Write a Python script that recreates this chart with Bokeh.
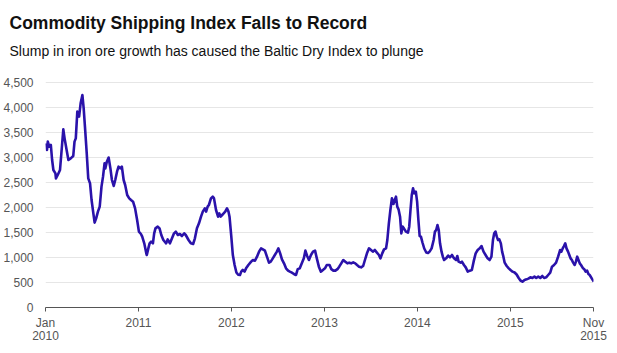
import pandas as pd
from bokeh.plotting import figure
from bokeh.models import (Range1d, FixedTicker, NumeralTickFormatter, Title,
                          ColumnDataSource)
from bokeh.embed import file_html
from bokeh.resources import INLINE

title_text = "Commodity Shipping Index Falls to Record"
subtitle_text = "Slump in iron ore growth has caused the Baltic Dry Index to plunge"

# observation dates (days after 1 Jan 2010) and Baltic Dry Index values
days_since_2010 = [
    3, 6, 9, 15, 21, 26, 31, 39, 41, 48, 57, 65, 70, 75, 83, 90, 99, 109, 114, 119,
    125, 132, 138, 145, 150, 155, 162, 168, 175, 181, 188, 193, 199, 206, 213, 220,
    226, 232, 235, 241, 248, 255, 261, 268, 274, 281, 287, 294, 300, 307, 313, 321,
    329, 336, 344, 352, 360, 367, 375, 380, 388, 396, 398, 404, 409, 415, 422, 427,
    432, 441, 448, 455, 463, 474, 480, 489, 497, 505, 512, 520, 528, 536, 545, 551,
    562, 571, 580, 587, 595, 603, 611, 618, 626, 631, 637, 642, 650, 657, 662, 670,
    678, 683, 688, 694, 700, 706, 713, 719, 723, 730, 736, 743, 750, 757, 764, 769,
    775, 782, 788, 797, 808, 815, 823, 831, 839, 847, 854, 862, 870, 878, 885, 893,
    901, 909, 915, 922, 929, 937, 945, 953, 960, 968, 976, 984, 991, 999, 1007, 1015,
    1021, 1028, 1035, 1043, 1051, 1059, 1066, 1074, 1082, 1090, 1098, 1105, 1116, 1123,
    1131, 1139, 1147, 1154, 1162, 1170, 1178, 1186, 1193, 1201, 1209, 1217, 1224, 1232,
    1240, 1248, 1255, 1263, 1271, 1279, 1286, 1294, 1302, 1310, 1316, 1323, 1330, 1338,
    1343, 1349, 1355, 1361, 1367, 1372, 1377, 1382, 1387, 1393, 1398, 1403, 1408, 1416,
    1424, 1429, 1434, 1439, 1444, 1449, 1455, 1460, 1465, 1470, 1475, 1481, 1488, 1496,
    1503, 1509, 1517, 1525, 1530, 1535, 1540, 1545, 1550, 1556, 1561, 1566, 1574, 1582,
    1589, 1597, 1605, 1613, 1618, 1623, 1631, 1636, 1644, 1651, 1659, 1667, 1675, 1682,
    1690, 1698, 1706, 1713, 1721, 1729, 1737, 1745, 1752, 1758, 1763, 1768, 1773, 1778,
    1783, 1789, 1794, 1799, 1804, 1812, 1820, 1827, 1835, 1843, 1851, 1859, 1866, 1874,
    1882, 1890, 1897, 1905, 1913, 1921, 1928, 1936, 1944, 1952, 1959, 1967, 1975, 1983,
    1990, 1998, 2006, 2014, 2022, 2027, 2032, 2037, 2042, 2047, 2053, 2058, 2063, 2068,
    2073, 2079, 2084, 2089, 2094, 2099, 2104, 2112, 2117, 2122, 2128, 2133, 2138, 2146,
    2154,
]
bdi = [
    3283, 3150, 3317, 3217, 3250, 2950, 2750, 2683, 2583, 2650, 2750, 3250, 3563, 3383, 3150, 2950, 2983, 3030, 3317, 3383,
    3917, 3817, 4083, 4250, 3983, 3617, 3083, 2583, 2483, 2150, 1883, 1697, 1783, 1917, 2017, 2417,
    2617, 2883, 2783, 2917, 3000, 2783, 2550, 2430, 2550, 2717, 2817, 2783, 2817, 2550, 2450, 2250,
    2183, 2150, 2117, 1983, 1750, 1517, 1470, 1417, 1283, 1083, 1050, 1183, 1283, 1317, 1283, 1483,
    1583, 1617, 1583, 1450, 1350, 1283, 1363, 1283, 1383, 1483, 1517, 1450, 1470, 1430, 1483, 1450,
    1350, 1283, 1270, 1383, 1583, 1683, 1817, 1917, 1983, 1917, 2017, 2050, 2183, 2217, 2183, 1950,
    1817, 1883, 1817, 1850, 1883, 1917, 1983, 1917, 1817, 1417, 1050, 850, 700, 655, 650, 717,
    750, 717, 783, 850, 917, 950, 937, 1017, 1117, 1183, 1163, 1137, 1017, 897, 917, 983,
    1050, 1117, 1183, 1083, 963, 883, 783, 737, 717, 697, 670, 650, 767, 783, 883, 983,
    1137, 1030, 950, 1050, 1117, 1137, 983, 817, 717, 750, 783, 850, 850, 767,
    737, 737, 767, 817, 883, 950, 917, 883, 897, 883, 903, 883, 850, 817,
    803, 830, 950, 1083, 1183, 1150, 1117, 1150, 1097, 1050, 983, 1083, 1163, 1183,
    1350, 1683, 1950, 2183, 2070, 2150, 2217, 2017, 1963, 1817, 1483, 1617, 1583, 1517,
    1497, 1617, 1950, 2250, 2383, 2283, 2317, 2117, 1750, 1430, 1417, 1300, 1180, 1100,
    1090, 1117, 1183, 1350, 1517, 1550, 1650, 1550, 1283, 1117, 1017, 950, 983, 1037,
    1003, 1050, 983, 950, 1030, 917, 897, 917, 850, 803, 717, 737, 750, 917,
    1083, 1150, 1183, 1230, 1117, 1050, 983, 950, 1017, 1350, 1483, 1517, 1417, 1350,
    1363, 1283, 1117, 1017, 897, 830, 783, 750, 717, 700, 660, 590, 540, 517,
    550, 563, 577, 603, 590, 617, 590, 617, 590, 630, 590, 603, 650, 697,
    817, 850, 897, 1017, 1150, 1117, 1183, 1230, 1283, 1183, 1117, 1050, 983, 950,
    897, 850, 917, 1017, 950, 883, 850, 783, 763, 717, 737, 670, 650, 583,
    517,
]

tick_labels = ["Jan\n2010", "2011", "2012", "2013", "2014", "2015", "Nov\n2015"]
tick_dates = ["2010-01-01", "2011-01-01", "2012-01-01", "2013-01-01",
              "2014-01-01", "2015-01-01", "2015-11-24"]
y_ticks = [0, 500, 1000, 1500, 2000, 2500, 3000, 3500, 4000, 4500]

start = pd.Timestamp("2010-01-01")
dates = [start + pd.Timedelta(days=d) for d in days_since_2010]
src = ColumnDataSource(dict(date=dates, bdi=bdi))

tick_ms = [pd.Timestamp(t).value / 1e6 for t in tick_dates]

FONT = "Liberation Sans"

# frame spans 247 px vertically; 20 index points per pixel puts 4,500 22 px below its top
p = figure(width=617, height=353, x_axis_type="datetime",
           output_backend="svg", toolbar_location=None,
           min_border_left=39, min_border_right=24,
           min_border_top=60, min_border_bottom=46,
           title=title_text)
p.x_range = Range1d(start, pd.Timestamp(tick_dates[-1]))
p.y_range = Range1d(0, 4940)
p.outline_line_color = None
p.background_fill_color = "white"
p.border_fill_color = "white"

p.line("date", "bdi", source=src, line_color="#2a12aa", line_width=2.6,
       line_join="round")

# x axis
xa = p.xaxis[0]
xa.ticker = FixedTicker(ticks=tick_ms)
xa.major_label_overrides = {t: l for t, l in zip(tick_ms, tick_labels)}
xa.axis_line_color = "#555555"
xa.major_tick_line_color = "#555555"
xa.major_tick_out = 4
xa.major_tick_in = 0
xa.minor_tick_line_color = None
xa.major_label_text_font = FONT
xa.major_label_text_font_size = "12px"
xa.major_label_text_color = "#555555"
xa.major_label_standoff = 4
xa.major_label_text_line_height = 0.95

# y axis
ya = p.yaxis[0]
ya.ticker = FixedTicker(ticks=y_ticks)
ya.formatter = NumeralTickFormatter(format="0,0")
ya.axis_line_color = None
ya.major_tick_line_color = None
ya.minor_tick_line_color = None
ya.major_label_text_font = FONT
ya.major_label_text_font_size = "12px"
ya.major_label_text_color = "#555555"
ya.major_label_standoff = 6

p.xgrid.grid_line_color = None
p.ygrid.grid_line_color = "#e6e6e6"
p.ygrid.ticker = FixedTicker(ticks=y_ticks)

# main title (outermost)
p.title.align = "left"
p.title.offset = -36
p.title.text_font = FONT
p.title.text_font_style = "bold"
p.title.text_font_size = "17.5px"
p.title.text_color = "#111111"
p.title.standoff = 12

# subtitle (closest to the plot)
subtitle = Title(text=subtitle_text, align="left", offset=-36, text_font=FONT,
                 text_font_style="normal", text_font_size="14px",
                 text_color="#111111", standoff=4)
p.add_layout(subtitle, "above")

open("out.html", "w").write(file_html(p, INLINE))
